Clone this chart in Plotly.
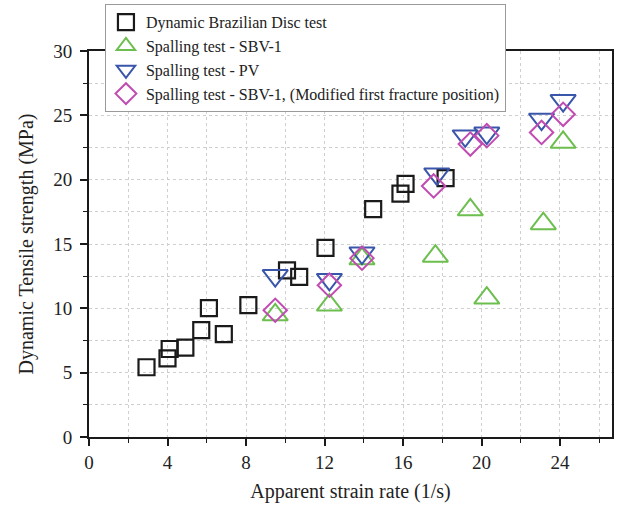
import plotly.graph_objects as go

# Dynamic Brazilian Disc test
bd_rate = [2.93, 4.00, 4.11, 4.91, 5.72, 6.11, 6.87, 8.12, 10.09, 10.71, 12.05, 14.48, 15.87, 16.13, 18.17]
bd_strength = [5.42, 6.11, 6.84, 6.94, 8.30, 10.02, 8.00, 10.25, 12.95, 12.44, 14.70, 17.71, 18.91, 19.68, 20.12]

# Spalling test - SBV-1
sbv_rate = [9.49, 12.25, 13.91, 17.65, 19.43, 20.27, 23.15, 24.16]
sbv_strength = [9.50, 10.25, 13.85, 14.05, 17.66, 10.80, 16.58, 22.90]

# Spalling test - PV
pv_rate = [9.49, 12.25, 13.91, 17.72, 19.17, 20.27, 23.06, 24.16]
pv_strength = [12.55, 12.25, 14.30, 20.45, 23.40, 23.62, 24.70, 26.15]

# Spalling test - SBV-1, modified first fracture position
mod_rate = [9.49, 12.25, 13.91, 17.56, 19.43, 20.27, 23.06, 24.16]
mod_strength = [9.85, 11.80, 13.90, 19.51, 22.77, 23.42, 23.67, 25.08]

x_ticks = [0, 4, 8, 12, 16, 20, 24]
y_ticks = [0, 5, 10, 15, 20, 25, 30]

FONT = "Liberation Serif"
GRID = "#cfcfcf"

fig = go.Figure()
fig.add_trace(go.Scatter(
    x=bd_rate, y=bd_strength, mode="markers", name="Dynamic Brazilian Disc test",
    marker=dict(symbol="square-open", size=16, color="#1a1a1a", line=dict(width=2.2))))
fig.add_trace(go.Scatter(
    x=sbv_rate, y=sbv_strength, mode="markers", name="Spalling test - SBV-1",
    marker=dict(symbol="triangle-up-open", size=22, color="#6cbf4e", line=dict(width=2))))
fig.add_trace(go.Scatter(
    x=pv_rate, y=pv_strength, mode="markers", name="Spalling test - PV",
    marker=dict(symbol="triangle-down-open", size=22, color="#3a56aa", line=dict(width=2))))
fig.add_trace(go.Scatter(
    x=mod_rate, y=mod_strength, mode="markers",
    name="Spalling test - SBV-1, (Modified first fracture position)",
    marker=dict(symbol="diamond-open", size=18, color="#c04cb2", line=dict(width=2))))

axis_common = dict(
    showline=True, linecolor="#1a1a1a", linewidth=1.8, mirror=True,
    ticks="outside", ticklen=7, tickwidth=1.6, tickcolor="#1a1a1a",
    showgrid=True, gridcolor=GRID, griddash="dot", gridwidth=1,
    zeroline=False,
    tickfont=dict(family=FONT, size=19, color="#222222"),
)

fig.update_xaxes(
    range=[0, 26.65], tickvals=x_ticks, ticktext=[str(v) for v in x_ticks],
    minor=dict(dtick=2, tick0=0, ticks="outside", ticklen=4, tickwidth=1.4,
               tickcolor="#1a1a1a", showgrid=True, gridcolor=GRID, griddash="dot"),
    title=dict(text="Apparent strain rate (1/s)", font=dict(family=FONT, size=20, color="#222222"),
               standoff=12),
    **axis_common)
fig.update_yaxes(
    range=[0, 30], tickvals=y_ticks, ticktext=[str(v) for v in y_ticks],
    ticklabelstandoff=4,
    minor=dict(dtick=2.5, tick0=0, ticks="outside", ticklen=4, tickwidth=1.4,
               tickcolor="#1a1a1a", showgrid=True, gridcolor=GRID, griddash="dot"),
    title=dict(text="Dynamic Tensile strength (MPa)", font=dict(family=FONT, size=20, color="#222222"),
               standoff=14),
    **axis_common)

fig.update_layout(
    width=618, height=506,
    margin=dict(l=89, r=4, t=48, b=69),
    plot_bgcolor="white", paper_bgcolor="white",
    font=dict(family=FONT, color="#222222"),
    showlegend=True,
    legend=dict(
        x=0.0305, y=1.121, xanchor="left", yanchor="top",
        bgcolor="white", bordercolor="#9a9a9a", borderwidth=1,
        font=dict(family=FONT, size=16, color="#222222"),
        tracegroupgap=0, itemwidth=30,
    ),
)

fig.write_html("out.html")
